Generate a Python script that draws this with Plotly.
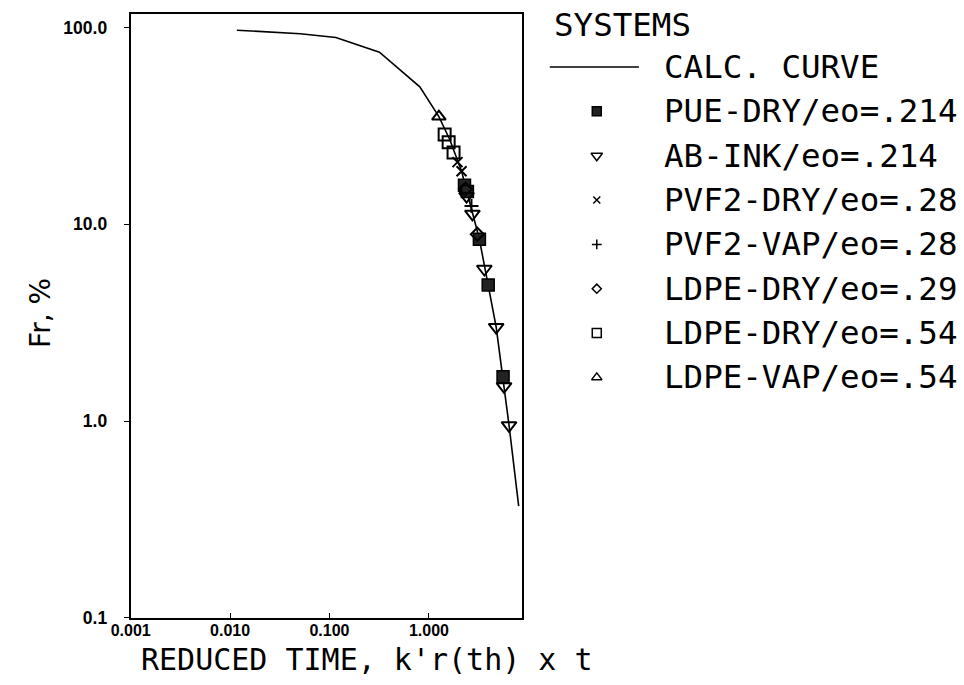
import plotly.graph_objects as go

# ---------------- data ----------------
curve_t = [0.0117, 0.0508, 0.116, 0.318, 0.81, 1.26, 1.62, 2.13, 3.22, 4.75, 6.4, 8.0]
curve_fr = [97, 93, 89, 75, 50, 35.3, 27, 18.6, 8.4, 3.0, 0.95, 0.37]

pue_t = [2.28, 2.44, 3.22, 3.95, 5.57]
pue_fr = [15.8, 14.7, 8.4, 4.92, 1.68]
abink_t = [2.39, 2.74, 3.61, 4.75, 5.7, 6.4]
abink_fr = [13.9, 11.3, 5.93, 3.0, 1.50, 0.95]
pvf2dry_t = [1.94, 2.13]
pvf2dry_fr = [20.7, 18.6]
pvf2vap_t = [2.68]
pvf2vap_fr = [12.4]
ldpe29_t = [2.33, 3.07]
ldpe29_fr = [15.1, 8.9]
ldpe54_t = [1.44, 1.58, 1.77]
ldpe54_fr = [28.6, 26.1, 23.2]
ldpevap_t = [1.26]
ldpevap_fr = [35.3]

legend_names = ["PUE-DRY/eo=.214", "AB-INK/eo=.214", "PVF2-DRY/eo=.28", "PVF2-VAP/eo=.28",
                "LDPE-DRY/eo=.29", "LDPE-DRY/eo=.54", "LDPE-VAP/eo=.54"]
x_tickvals = [0.001, 0.01, 0.1, 1]
x_ticktext = ["0.001", "0.010", "0.100", "1.000"]
y_tickvals = [0.1, 1, 10, 100]
y_ticktext = ["0.1", "1.0", "10.0", "100.0"]

# ---------------- styles ----------------
W, H = 964, 685
styles = [
    dict(symbol="square", color="#222", size=12, lw=1.5),
    dict(symbol="triangle-down-open", color="black", size=13, lw=2),
    dict(symbol="x-thin-open", color="black", size=10, lw=2),
    dict(symbol="cross-thin-open", color="black", size=10, lw=2),
    dict(symbol="diamond-open", color="black", size=10, lw=2),
    dict(symbol="square-open", color="black", size=12, lw=2),
    dict(symbol="triangle-up-open", color="black", size=12, lw=2),
]
series = [(pue_t, pue_fr), (abink_t, abink_fr), (pvf2dry_t, pvf2dry_fr), (pvf2vap_t, pvf2vap_fr),
          (ldpe29_t, ldpe29_fr), (ldpe54_t, ldpe54_fr), (ldpevap_t, ldpevap_fr)]

fig = go.Figure()
fig.add_trace(go.Scatter(x=curve_t, y=curve_fr, mode="lines",
                         line=dict(color="black", width=1.6), showlegend=False))
for (xs, ys), st in zip(series, styles):
    fig.add_trace(go.Scatter(x=xs, y=ys, mode="markers", showlegend=False,
                             marker=dict(symbol=st["symbol"], size=st["size"], color=st["color"],
                                         line=dict(color="black", width=st["lw"]))))

# ---------------- manual legend on a pixel-space helper axis ----------------
leg_font = dict(family="DejaVu Sans Mono", size=32.5, color="black")
entry_y0, entry_dy = 113, 45
fig.add_trace(go.Scatter(x=[541, 632], y=[68, 68], mode="lines", line=dict(color="black", width=1.5),
                         xaxis="x2", yaxis="y2", showlegend=False, hoverinfo="skip"))
for i, st in enumerate(styles):
    fig.add_trace(go.Scatter(x=[589], y=[entry_y0 + i * entry_dy], mode="markers", xaxis="x2", yaxis="y2",
                             showlegend=False, hoverinfo="skip",
                             marker=dict(symbol=st["symbol"], size=max(st["size"] - 3, 7), color=st["color"],
                                         line=dict(color="black", width=1.5))))

annotations = [
    dict(x=543, y=25, xref="x2", yref="y2", text="SYSTEMS", showarrow=False,
         xanchor="left", yanchor="middle", font=leg_font),
    dict(x=656, y=68, xref="x2", yref="y2", text="CALC. CURVE", showarrow=False,
         xanchor="left", yanchor="middle", font=leg_font),
]
for i, nm in enumerate(legend_names):
    annotations.append(dict(x=656, y=entry_y0 + i * entry_dy, xref="x2", yref="y2", text=nm,
                            showarrow=False, xanchor="left", yanchor="middle", font=leg_font))
annotations.append(dict(x=354, y=669, xref="x2", yref="y2", text="REDUCED TIME, k'r(th) x t",
                        showarrow=False, xanchor="center", yanchor="middle",
                        font=dict(family="DejaVu Sans Mono", size=30, color="black")))
annotations.append(dict(x=21, y=318, xref="x2", yref="y2", text="Fr, %", textangle=-90,
                        showarrow=False, xanchor="center", yanchor="middle",
                        font=dict(family="DejaVu Sans", size=28, color="black")))

tickfont = dict(family="Liberation Sans", size=16, color="black", weight="bold")
ytickfont = dict(family="Liberation Sans", size=17.5, color="black", weight="bold")
fig.update_layout(
    width=W, height=H,
    margin=dict(l=0, r=0, t=0, b=0),
    paper_bgcolor="white", plot_bgcolor="rgba(0,0,0,0)",
    showlegend=False,
    annotations=annotations,
    xaxis=dict(type="log", range=[-3, 0.94], domain=[113 / W, 513 / W],
               tickvals=x_tickvals, ticktext=x_ticktext, tickfont=tickfont,
               showline=True, mirror=True, linecolor="black", linewidth=2,
               ticks="inside", ticklen=5, tickcolor="black", showgrid=False, zeroline=False,
               ticklabelstandoff=-3, anchor="y"),
    yaxis=dict(type="log", range=[-1, 2.07], domain=[1 - 627 / H, 1 - 14 / H],
               tickvals=y_tickvals, ticktext=y_ticktext, tickfont=ytickfont,
               showline=True, mirror=True, linecolor="black", linewidth=2,
               ticks="outside", ticklen=5, tickcolor="black", showgrid=False, zeroline=False,
               ticklabelstandoff=13, anchor="x"),
    xaxis2=dict(domain=[0, 1], range=[0, W], visible=False, anchor="y2", fixedrange=True),
    yaxis2=dict(domain=[0, 1], range=[H, 0], visible=False, anchor="x2", fixedrange=True),
)

fig.write_html("out.html")
